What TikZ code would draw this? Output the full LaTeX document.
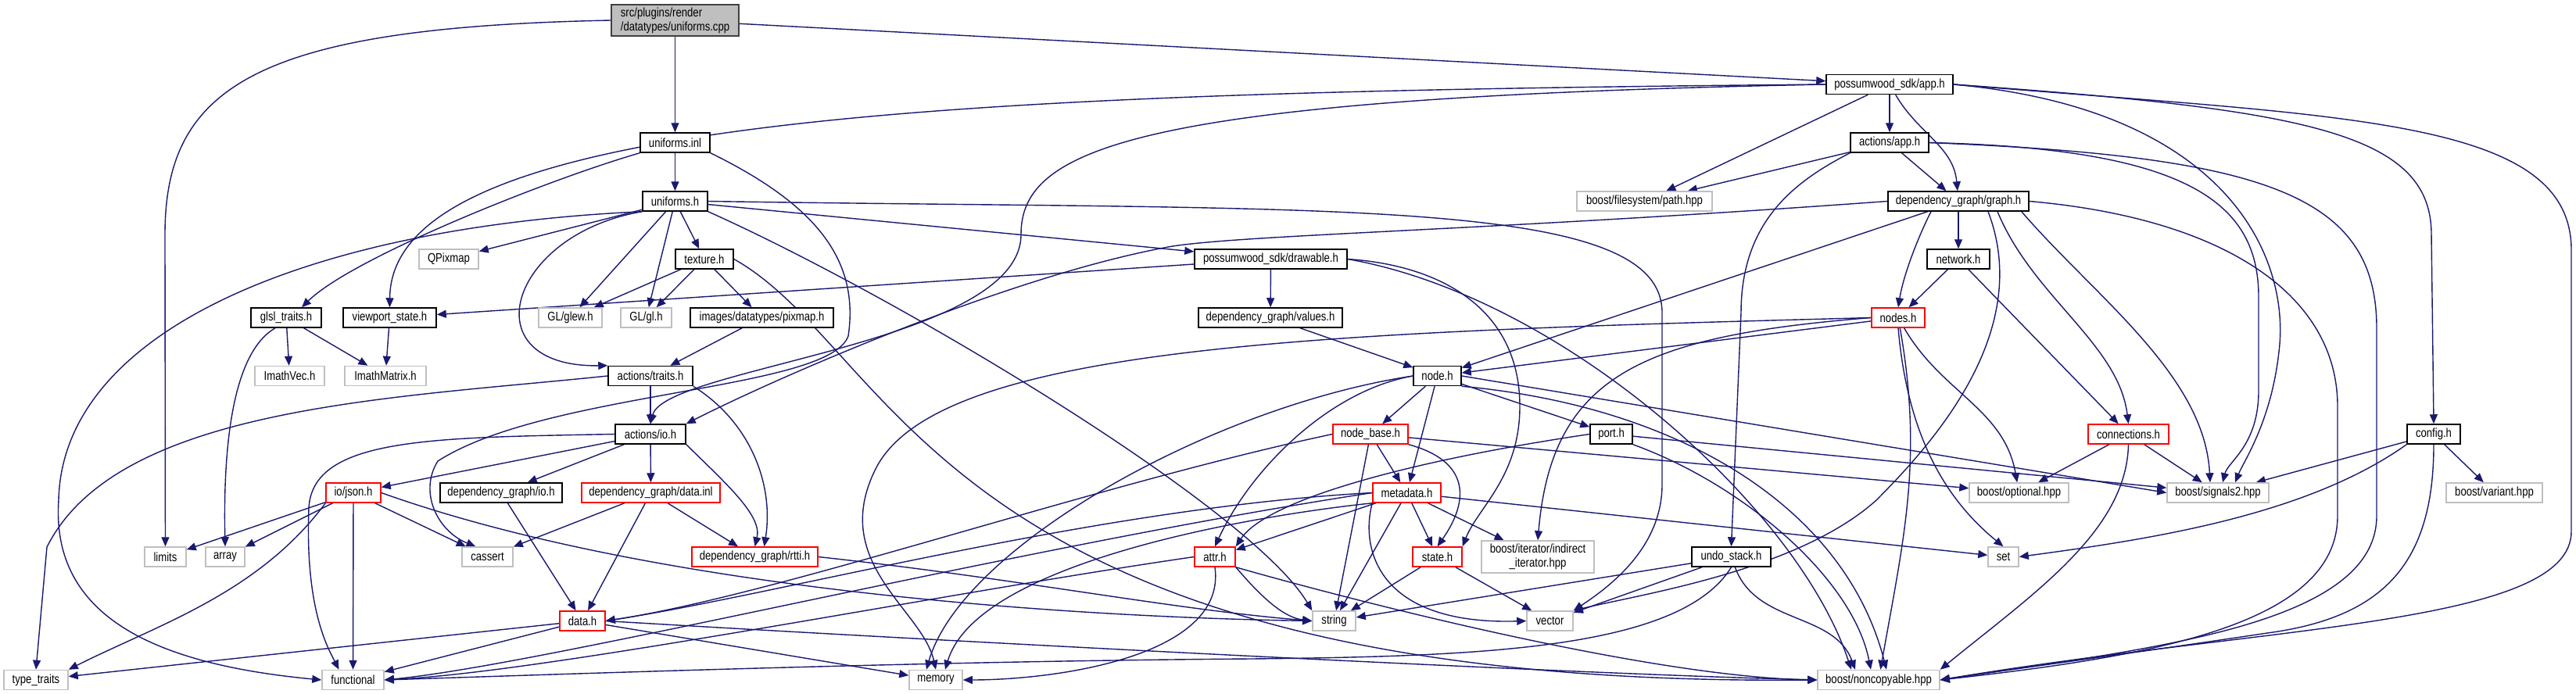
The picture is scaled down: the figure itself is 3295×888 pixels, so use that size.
\documentclass[tikz,border=0pt]{standalone}
\usepackage{fontspec}
\setmainfont{Liberation Sans}[FakeStretch=0.82]
\usetikzlibrary{arrows.meta,calc}
\definecolor{edgec}{HTML}{191970}
\definecolor{extc}{HTML}{BFBFBF}
\definecolor{truncc}{HTML}{FF0000}
\definecolor{rootc}{HTML}{404040}
\pgfdeclarelayer{bg}
\pgfdeclarelayer{edges}
\pgfsetlayers{bg,edges,main}
\tikzset{
 bdoc/.style={draw=black, fill=white, line width=1.5pt, inner sep=0pt, minimum height=25pt, font=\fontsize{16}{18}\selectfont},
 bext/.style={bdoc, draw=extc},
 btrunc/.style={bdoc, draw=truncc},
 broot/.style={bdoc, draw=rootc, fill=extc, align=left, minimum height=40pt},
 edg/.style={draw=edgec, line width=1.4pt, -{Triangle[length=12pt,width=10pt]}},
}
\begin{document}
\begin{tikzpicture}[x=1pt,y=-1pt]
\useasboundingbox (0,0) rectangle (3295,888);
\begin{pgfonlayer}{bg}
\fill[white] (0,0) rectangle (3295,888);
\end{pgfonlayer}
% nodes
\node[broot, minimum width=163pt] (cpp) at (863.5,26) {src/plugins/render\\/datatypes/uniforms.cpp};
\node[bdoc, minimum width=162pt] (app) at (2417,108) {possumwood\_sdk/app.h};
\node[bdoc, minimum width=89pt] (inl) at (863.5,182.5) {uniforms.inl};
\node[bdoc, minimum width=100pt] (aapp) at (2417,182.5) {actions/app.h};
\node[bdoc, minimum width=83pt] (uh) at (863.5,257.5) {uniforms.h};
\node[bext, minimum width=173pt] (fspath) at (2103.5,257.5) {boost/filesystem/path.hpp};
\node[bdoc, minimum width=180pt] (graph) at (2505,257.5) {dependency\_graph/graph.h};
\node[bext, minimum width=76pt] (qpixmap) at (574,331.5) {QPixmap};
\node[bdoc, minimum width=74pt] (texture) at (901,331.5) {texture.h};
\node[bdoc, minimum width=195pt] (drawable) at (1625.5,331.5) {possumwood\_sdk/drawable.h};
\node[bdoc, minimum width=80pt] (network) at (2505,331.5) {network.h};
\node[bdoc, minimum width=90pt] (glsl) at (366,406.5) {glsl\_traits.h};
\node[bdoc, minimum width=119pt] (viewport) at (498.5,406.5) {viewport\_state.h};
\node[bext, minimum width=81pt] (glew) at (729.5,406.5) {GL/glew.h};
\node[bext, minimum width=65pt] (gl) at (826.5,406.5) {GL/gl.h};
\node[bdoc, minimum width=183pt] (pixmap) at (974.5,406.5) {images/datatypes/pixmap.h};
\node[bdoc, minimum width=184pt] (values) at (1625,406.5) {dependency\_graph/values.h};
\node[btrunc, minimum width=68pt] (nodes) at (2428,406.5) {nodes.h};
\node[bext, minimum width=89pt] (ivec) at (370.5,481) {ImathVec.h};
\node[bext, minimum width=104pt] (imat) at (493,481) {ImathMatrix.h};
\node[bdoc, minimum width=108pt] (atraits) at (832,481) {actions/traits.h};
\node[bdoc, minimum width=61pt] (nodeh) at (1838.5,481) {node.h};
\node[bdoc, minimum width=90pt] (aio) at (832,555.5) {actions/io.h};
\node[btrunc, minimum width=96pt] (nbase) at (1753,555.5) {node\_base.h};
\node[bdoc, minimum width=54pt] (port) at (2061,555.5) {port.h};
\node[btrunc, minimum width=103pt] (conn) at (2722.5,555.5) {connections.h};
\node[bdoc, minimum width=68pt] (config) at (3113,555.5) {config.h};
\node[btrunc, minimum width=70pt] (json) at (452,630.5) {io/json.h};
\node[bdoc, minimum width=156pt] (dgio) at (641,630.5) {dependency\_graph/io.h};
\node[btrunc, minimum width=177pt] (dinl) at (832.5,630.5) {dependency\_graph/data.inl};
\node[btrunc, minimum width=87pt] (meta) at (1799.5,630.5) {metadata.h};
\node[bext, minimum width=127pt] (opt) at (2582.5,630.5) {boost/optional.hpp};
\node[bext, minimum width=130pt] (sig) at (2837,630.5) {boost/signals2.hpp};
\node[bext, minimum width=123pt] (variant) at (3190.5,630.5) {boost/variant.hpp};
\node[bext, minimum width=53pt] (limits) at (211.5,712.5) {limits};
\node[bext, minimum width=50pt] (arrx) at (288,712.5) {array};
\node[bext, minimum width=65pt] (cassert) at (623.5,712.5) {cassert};
\node[btrunc, minimum width=161pt] (rtti) at (965.5,712.5) {dependency\_graph/rtti.h};
\node[btrunc, minimum width=52pt] (attr) at (1554,712.5) {attr.h};
\node[btrunc, minimum width=63pt] (stateh) at (1838.5,712.5) {state.h};
\node[bext, minimum width=144pt, minimum height=41pt, align=center] (indir) at (1967,712.5) {boost/iterator/indirect\\\_iterator.hpp};
\node[bdoc, minimum width=101pt] (undo) at (2214.5,712.5) {undo\_stack.h};
\node[bext, minimum width=39pt] (setx) at (2562.5,712.5) {set};
\node[btrunc, minimum width=58pt] (datah) at (745,794.5) {data.h};
\node[bext, minimum width=55pt] (strx) at (1706.5,794.5) {string};
\node[bext, minimum width=59pt] (vecx) at (1982.5,794.5) {vector};
\node[bext, minimum width=82pt] (tt) at (46,870) {type\_traits};
\node[bext, minimum width=79pt] (func) at (451.5,870) {functional};
\node[bext, minimum width=68pt] (memx) at (1197,870) {memory};
\node[bext, minimum width=156pt] (noncopy) at (2403,870) {boost/noncopyable.hpp};
% edges
\begin{pgfonlayer}{edges}
\draw[edg] (cpp) -- (inl);
\draw[edg] (cpp) -- (app);
\draw[edg] (cpp.west) .. controls (330,35) and (211,110) .. (211,300) -- (limits);
\draw[edg] (app) -- (aapp);
\draw[edg] (app) -- (fspath);
\draw[edg] (app) to[out=-60,in=95] (graph);
\draw[edg] (app.west) .. controls (1200,118) and (500,150) .. (viewport.north);
\draw[edg] (app.west) .. controls (1450,125) and (1306,190) .. (1306,300) .. controls (1306,440) and (850,470) .. (aio.north);
\draw[edg] (app.east) .. controls (2850,140) and (2930,330) .. (2915,450) .. controls (2905,540) and (2870,590) .. ($(sig.north)+(22,0)$);
\draw[edg] (app.east) .. controls (3000,150) and (3289,150) .. (3289,320) -- (3289,680) .. controls (3289,800) and (2900,800) .. (noncopy.east);
\draw[edg] (app.east) .. controls (2950,140) and (3110,170) .. (3110,300) -- (config.north);
\draw[edg] (aapp) -- (fspath);
\draw[edg] (aapp) -- (graph);
\draw[edg] (aapp.south west) .. controls (2300,230) and (2227,280) .. (2227,400) -- (undo.north);
\draw[edg] (aapp.east) .. controls (2800,190) and (2889,260) .. (2889,380) -- (2889,500) .. controls (2889,570) and (2850,590) .. ($(sig.north)+(6,0)$);
\draw[edg] (aapp.east) .. controls (2900,200) and (3040,250) .. (3040,420) -- (3040,660) .. controls (3040,800) and (2750,830) .. (noncopy.east);
\draw[edg] (inl) -- (uh);
\draw[edg] (inl.south west) .. controls (700,230) and (450,330) .. ($(glsl.north)+(20,0)$);
\draw[edg] (inl.south east) .. controls (1040,260) and (1100,330) .. (1085,430) .. controls (1060,500) and (700,500) .. (560,590) .. controls (535,630) and (560,680) .. ($(cassert.north)+(-15,0)$);
\draw[edg] (uh) -- (qpixmap);
\draw[edg] (uh) -- (texture);
\draw[edg] (uh) -- (glew);
\draw[edg] (uh) -- (gl);
\draw[edg] (uh) -- (drawable);
\draw[edg] (uh.south west) .. controls (650,300) and (600,470) .. (atraits.north west);
\draw[edg] (uh.south west) .. controls (400,290) and (80,420) .. (75,640) .. controls (65,790) and (200,850) .. (func.west);
\draw[edg] (uh.south east) .. controls (1150,380) and (1600,650) .. (strx.north west);
\draw[edg] (uh.east) .. controls (1700,270) and (2126,250) .. (2126,400) -- (2126,620) .. controls (2126,700) and (2060,750) .. (vecx.north east);
\draw[edg] (glsl) -- (ivec);
\draw[edg] (glsl) -- (imat);
\draw[edg] ($(glsl.south)+(-14,0)$) .. controls (300,450) and (285,560) .. (arrx.north);
\draw[edg] (viewport) -- (imat);
\draw[edg] (texture) -- (glew);
\draw[edg] (texture) -- (gl);
\draw[edg] (texture) -- (pixmap);
\draw[edg] (texture.east) .. controls (1150,450) and (1200,880) .. (noncopy.west);
\draw[edg] (drawable) -- (viewport);
\draw[edg] (drawable) -- (values);
\draw[edg] (drawable.east) .. controls (1850,340) and (1944,400) .. (1944,520) .. controls (1944,610) and (1890,650) .. (stateh.north east);
\draw[edg] (drawable.east) .. controls (2000,380) and (2300,650) .. ($(noncopy.north)+(-35,0)$);
\draw[edg] (pixmap) -- (atraits);
\draw[edg] (atraits) -- (aio);
\draw[edg] (atraits.south east) .. controls (960,540) and (990,620) .. ($(rtti.north)+(12,0)$);
\draw[edg] (atraits.west) .. controls (500,510) and (150,520) .. (60,700) -- (tt.north);
\draw[edg] (graph) -- (network);
\draw[edg] ($(graph.south)+(-35,0)$) .. controls (2455,300) and (2435,350) .. (nodes.north);
\draw[edg] (graph) -- (nodeh);
\draw[edg] ($(graph.south)+(50,0)$) .. controls (2600,380) and (2710,440) .. (conn.north);
\draw[edg] ($(graph.south east)+(-10,0)$) .. controls (2680,380) and (2820,480) .. ($(sig.north)+(-10,0)$);
\draw[edg] ($(graph.south)+(38,0)$) .. controls (2600,420) and (2480,560) .. (2400,640) .. controls (2300,730) and (2100,760) .. (vecx.north east);
\draw[edg] (graph.east) .. controls (2850,280) and (2990,380) .. (2990,520) -- (2990,660) .. controls (2990,800) and (2750,840) .. (noncopy.east);
\draw[edg] (graph.west) .. controls (1900,295) and (1600,300) .. (1500,315) .. controls (1300,350) and (1000,480) .. (aio.north east);
\draw[edg] (network) -- (nodes);
\draw[edg] (network) -- (conn);
\draw[edg] (values) -- (nodeh);
\draw[edg] (nodes) -- (nodeh);
\draw[edg] (nodes) to[out=-60,in=100] (opt);
\draw[edg] (nodes.south) .. controls (2440,560) and (2490,640) .. (setx.north);
\draw[edg] (nodes.west) .. controls (2100,430) and (1985,480) .. (indir.north);
\draw[edg] (nodes.west) .. controls (1700,425) and (1200,440) .. (1120,600) .. controls (1060,720) and (1180,780) .. (memx.north);
\draw[edg] (nodes) to[out=-80,in=80] (noncopy);
\draw[edg] (nodeh) -- (nbase);
\draw[edg] (nodeh) -- (port);
\draw[edg] (nodeh) -- (meta);
\draw[edg] (nodeh.west) .. controls (1700,500) and (1600,600) .. (attr.north);
\draw[edg] (nodeh.west) .. controls (1550,520) and (1230,700) .. ($(memx.north)+(-12,0)$);
\draw[edg] (nodeh.east) -- (sig.west);
\draw[edg] (nodeh.south east) .. controls (2150,520) and (2360,650) .. ($(noncopy.north)+(10,0)$);
\draw[edg] (nbase) -- (meta);
\draw[edg] (nbase.south east) .. controls (1880,590) and (1880,640) .. (stateh.north);
\draw[edg] (nbase) -- (strx);
\draw[edg] (nbase.west) .. controls (1400,620) and (1000,760) .. (datah.east);
\draw[edg] (nbase) -- (opt);
\draw[edg] (port.west) .. controls (1800,590) and (1620,640) .. (attr.north east);
\draw[edg] (port) -- (sig);
\draw[edg] (port.south east) .. controls (2230,620) and (2370,740) .. ($(noncopy.north)+(-10,0)$);
\draw[edg] (meta) -- (attr);
\draw[edg] (meta) -- (stateh);
\draw[edg] (meta) -- (strx);
\draw[edg] (meta.south west) .. controls (1740,700) and (1760,800) .. (vecx.west);
\draw[edg] (meta) -- (setx);
\draw[edg] (meta) -- (indir);
\draw[edg] (meta.west) .. controls (1400,650) and (1000,760) .. (datah.east);
\draw[edg] (meta.west) .. controls (1300,700) and (700,850) .. (func.east);
\draw[edg] (meta.south west) .. controls (1600,660) and (1250,720) .. ($(memx.north)+(12,0)$);
\draw[edg] (attr.south east) .. controls (1610,760) and (1640,790) .. (strx.west);
\draw[edg] (attr.south) .. controls (1570,840) and (1350,870) .. (memx.east);
\draw[edg] (attr.west) .. controls (1200,760) and (700,860) .. (func.east);
\draw[edg] (attr.south east) .. controls (1700,760) and (2100,866) .. (noncopy.west);
\draw[edg] (stateh) -- (strx);
\draw[edg] (stateh) -- (vecx);
\draw[edg] (undo) -- (strx);
\draw[edg] (undo) -- (vecx);
\draw[edg] (undo.south) .. controls (2150,830) and (1900,840) .. (1600,843) .. controls (1200,846) and (800,860) .. (func.east);
\draw[edg] (undo) to[out=-70,in=110] ($(noncopy.north)+(-30,0)$);
\draw[edg] (conn) -- (opt);
\draw[edg] (conn) -- (sig);
\draw[edg] (conn.south) .. controls (2720,680) and (2600,760) .. (noncopy.north east);
\draw[edg] (config) -- (sig);
\draw[edg] (config) -- (variant);
\draw[edg] (config.south west) .. controls (2950,660) and (2750,690) .. (setx.east);
\draw[edg] (config.south) .. controls (3113,720) and (3050,790) .. (2900,810) .. controls (2700,840) and (2580,855) .. (noncopy.east);
\draw[edg] (json) -- (limits);
\draw[edg] (json) -- (arrx);
\draw[edg] (json) -- (cassert);
\draw[edg] (json.south west) .. controls (330,760) and (200,800) .. (tt.north east);
\draw[edg] (json) -- (func);
\draw[edg] (json.east) .. controls (850,760) and (1400,790) .. (strx.west);
\draw[edg] (aio) -- (json);
\draw[edg] (aio) -- (dgio);
\draw[edg] (aio) -- (dinl);
\draw[edg] (aio.south east) .. controls (930,620) and (975,660) .. (rtti.north);
\draw[edg] (aio.west) .. controls (550,560) and (400,560) .. (395,650) .. controls (390,780) and (420,830) .. ($(func.north)+(-18,0)$);
\draw[edg] (dgio) -- (datah);
\draw[edg] (dinl) -- (cassert);
\draw[edg] (dinl) -- (datah);
\draw[edg] (dinl) -- (rtti);
\draw[edg] (rtti.east) .. controls (1300,740) and (1500,780) .. (strx.west);
\draw[edg] (datah) -- (tt);
\draw[edg] (datah) -- (func);
\draw[edg] (datah) -- (memx);
\draw[edg] (datah.east) .. controls (1200,820) and (2000,862) .. (noncopy.west);
\end{pgfonlayer}
\end{tikzpicture}
\end{document}
